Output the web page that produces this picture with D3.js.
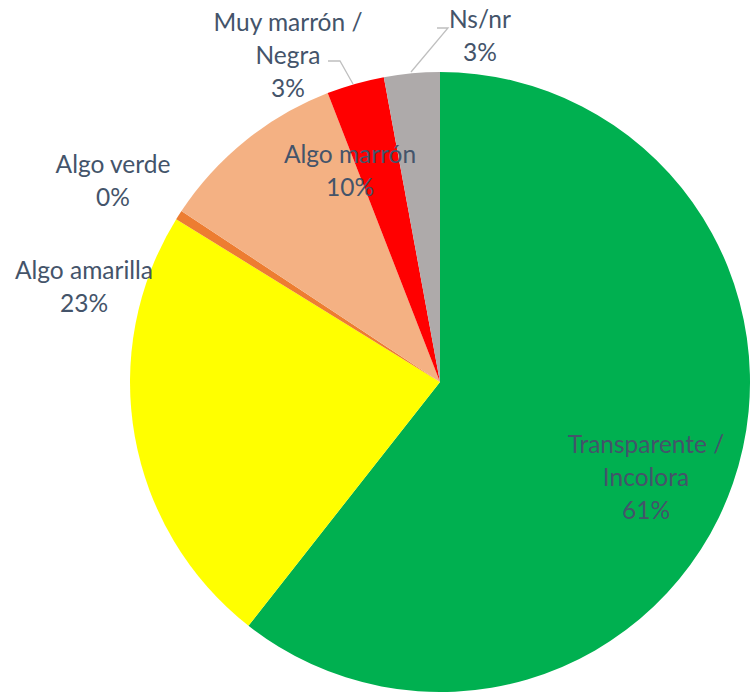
<!DOCTYPE html>
<html>
<head>
<meta charset="utf-8">
<script src="https://cdn.jsdelivr.net/npm/d3@7"></script>
<style>
  body { margin: 0; background: #fff; }
  text { font-family: Lato, "Open Sans", sans-serif; }
</style>
</head>
<body>
<div id="chart"></div>
<script>
// slice data, clockwise from 12 o'clock
const categories = ["Transparente / Incolora", "Algo amarilla", "Algo verde", "Algo marrón", "Muy marrón / Negra", "Ns/nr"];
const values = [60.6, 23.2, 0.5, 9.8, 3.0, 2.9];
const percentLabels = ["61%", "23%", "0%", "10%", "3%", "3%"];
const colors = ["#00B050", "#FFFF00", "#ED7D31", "#F4B183", "#FF0000", "#AEAAAA"];

// label text lines and where they sit (pixel offsets from pie centre)
const labelLines = [
  ["Transparente /", "Incolora", "61%"],
  ["Algo amarilla", "23%"],
  ["Algo verde", "0%"],
  ["Algo marrón", "10%"],
  ["Muy marrón /", "Negra", "3%"],
  ["Ns/nr", "3%"]
];
const labelAt = [[206, 95], [-356, -95], [-327, -201], [-90, -211], [-152, -327], [40, -346]];

const width = 750, height = 694;
const cx = 440, cy = 382, radius = 310;

const svg = d3.select("#chart").append("svg")
  .attr("width", width)
  .attr("height", height);

const g = svg.append("g").attr("transform", `translate(${cx},${cy})`);

const pie = d3.pie().sort(null).value(d => d);
const arcs = pie(values);
const arc = d3.arc().innerRadius(0).outerRadius(radius);

g.selectAll("path.slice")
  .data(arcs)
  .enter().append("path")
  .attr("class", "slice")
  .attr("d", arc)
  .attr("fill", (d, i) => colors[i]);

// leader lines for the two small top slices
const leaders = [
  { i: 4, pts: [[-112, -321], [-100, -321], [-87, -298]] },
  { i: 5, pts: [[-3, -354], [8, -354], [-29, -310]] }
];
g.selectAll("polyline.leader")
  .data(leaders)
  .enter().append("polyline")
  .attr("class", "leader")
  .attr("points", d => d.pts.map(p => p.join(",")).join(" "))
  .attr("fill", "none")
  .attr("stroke", "#BFBFBF")
  .attr("stroke-width", 1.3);

// labels
const lineH = 33;
const labels = g.selectAll("text.lbl")
  .data(arcs)
  .enter().append("text")
  .attr("class", "lbl")
  .attr("text-anchor", "middle")
  .attr("font-size", 24.5)
  .attr("fill", "#44546A")
  .attr("transform", (d, i) => `translate(${labelAt[i][0]},${labelAt[i][1]})`);

labels.each(function (d, i) {
  const lines = labelLines[i];
  const t = d3.select(this);
  lines.forEach((s, k) => {
    t.append("tspan")
      .attr("x", 0)
      .attr("y", (k - (lines.length - 1) / 2) * lineH)
      .attr("dy", "0.35em")
      .text(s);
  });
});
</script>
</body>
</html>
